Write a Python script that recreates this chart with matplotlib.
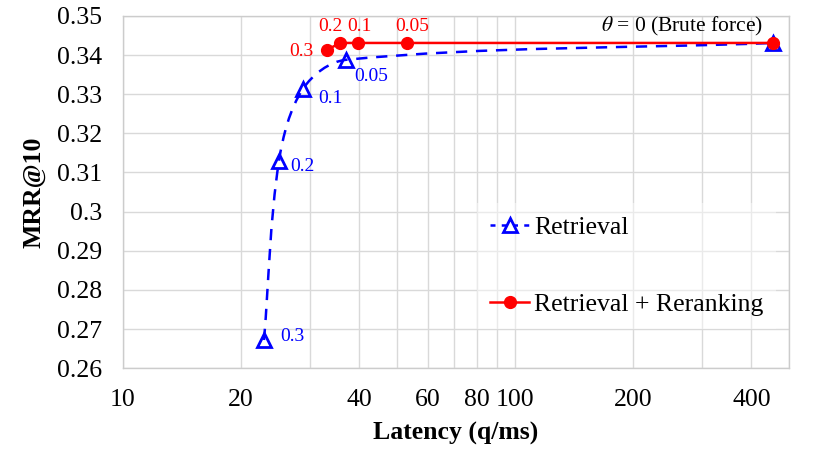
import numpy as np
import matplotlib
matplotlib.use('Agg')
import matplotlib.pyplot as plt
from matplotlib.path import Path
from matplotlib.patches import PathPatch
from matplotlib.lines import Line2D

plt.rcParams['font.family'] = ['Liberation Serif', 'DejaVu Serif']
plt.rcParams['mathtext.fontset'] = 'stix'

# latency (q/ms) and MRR@10 for each threshold theta
theta_labels = ['0.3', '0.2', '0.1', '0.05', '0']
retrieval_lat = [22.9, 25.0, 28.8, 37.1, 455]
retrieval_mrr = [0.2672, 0.3129, 0.3314, 0.3388, 0.3431]
rerank_lat = [33.1, 35.8, 39.8, 53.0, 455]
rerank_mrr = [0.3413, 0.3431, 0.3431, 0.3431, 0.3431]

x_ticks = [10, 20, 40, 60, 80, 100, 200, 400]
x_minor = [30, 50, 70, 90, 300, 500]
y_ticks = [0.26, 0.27, 0.28, 0.29, 0.30, 0.31, 0.32, 0.33, 0.34, 0.35]

BLUE = '#0000ff'
RED = '#ff0000'


def smooth_path(xs, ys, sx=392.0, sy=3910.0):
    # excel-like smoothed line: bezier with tangents scaled by segment length
    # (lengths measured in screen units so long segments don't loop)
    pts = np.column_stack([np.log10(xs), ys])
    scr = pts * [sx, sy]
    n = len(pts)
    dist = np.hypot(*np.diff(scr, axis=0).T)
    verts = [pts[0]]
    codes = [Path.MOVETO]
    for i in range(n - 1):
        p0 = pts[max(i - 1, 0)]
        p1 = pts[i]
        p2 = pts[i + 1]
        p3 = pts[min(i + 2, n - 1)]
        d01 = dist[i - 1] if i > 0 else 0.0
        d12 = dist[i]
        d23 = dist[i + 1] if i + 2 < n else 0.0
        c1 = p1 + (p2 - p0) * d12 / (3 * (d01 + d12))
        c2 = p2 - (p3 - p1) * d12 / (3 * (d12 + d23))
        verts += [c1, c2, p2]
        codes += [Path.CURVE4] * 3
    verts = np.array(verts)
    verts[:, 0] = 10 ** verts[:, 0]
    return Path(verts, codes)


fig = plt.figure(figsize=(8.3, 4.69), dpi=100)
ax = fig.add_axes([0.148, 0.215, 0.803, 0.751])
ax.set_xscale('log')
ax.set_xlim(10, 500)
ax.set_ylim(0.26, 0.35)

# retrieval: smoothed dashed line + open triangles
ax.add_patch(PathPatch(smooth_path(retrieval_lat, retrieval_mrr), fill=False,
                       edgecolor=BLUE, lw=1.8, ls=(0, (4.5, 3.5)), zorder=3))
ax.plot(retrieval_lat, retrieval_mrr, ls='none', marker='^', ms=10,
        mfc='none', mec=BLUE, mew=2, zorder=4)

# retrieval + reranking
ax.plot(rerank_lat, rerank_mrr, color=RED, lw=1.8, marker='o', ms=8.5, zorder=5)

# point labels
blue_off = [(16, 3), (11, -5), (15, -10), (8, -17)]
for i in range(4):
    ax.annotate(theta_labels[i], (retrieval_lat[i], retrieval_mrr[i]),
                xytext=blue_off[i], textcoords='offset pixels',
                ha='left', va='center', color=BLUE, fontsize=14)

red_off = [(-13, -2), (-10, 16), (1, 16), (5, 16)]
red_ha = ['right', 'center', 'center', 'center']
for i in range(4):
    ax.annotate(theta_labels[i], (rerank_lat[i], rerank_mrr[i]),
                xytext=red_off[i], textcoords='offset pixels',
                ha=red_ha[i], va='center', color=RED, fontsize=14)

ax.annotate(r'$\theta$ = 0 (Brute force)', (rerank_lat[4], rerank_mrr[4]),
            xytext=(-10, 16), textcoords='offset pixels',
            ha='right', va='center', color='black', fontsize=15.5)

# axes / grid
ax.set_xticks(x_ticks)
ax.set_xticklabels([str(t) for t in x_ticks])
ax.set_xticks(x_minor, minor=True)
ax.set_xticklabels([], minor=True)
ax.set_yticks(y_ticks)
ax.set_yticklabels(['%g' % t for t in y_ticks])
ax.tick_params(axis='both', which='both', length=0, labelsize=18.5)
ax.tick_params(axis='x', pad=15)
ax.tick_params(axis='y', pad=15)
ax.grid(True, which='both', color='#d9d9d9', lw=1.0)
ax.set_axisbelow(True)
for s in ax.spines.values():
    s.set_color('#cccccc')
    s.set_linewidth(1.0)

ax.set_xlabel('Latency (q/ms)', fontsize=18.5, fontweight='bold', labelpad=8)
ax.set_ylabel('MRR@10', fontsize=18.5, fontweight='bold', labelpad=8)

handles = [
    Line2D([], [], color=BLUE, lw=1.8, ls=(0, (2, 2.5)), marker='^', ms=10,
           mfc='none', mec=BLUE, mew=2),
    Line2D([], [], color=RED, lw=1.8, marker='o', ms=8.5),
]
leg = ax.legend(handles, ['Retrieval', 'Retrieval + Reranking'],
                loc='center left', bbox_to_anchor=(0.532, 0.29),
                fontsize=18.5, frameon=True, fancybox=False, framealpha=0.45,
                edgecolor='none', handlelength=1.5, handletextpad=0.2,
                labelspacing=2.1, borderaxespad=0, borderpad=0.5)

plt.savefig('out.png', dpi=100)
